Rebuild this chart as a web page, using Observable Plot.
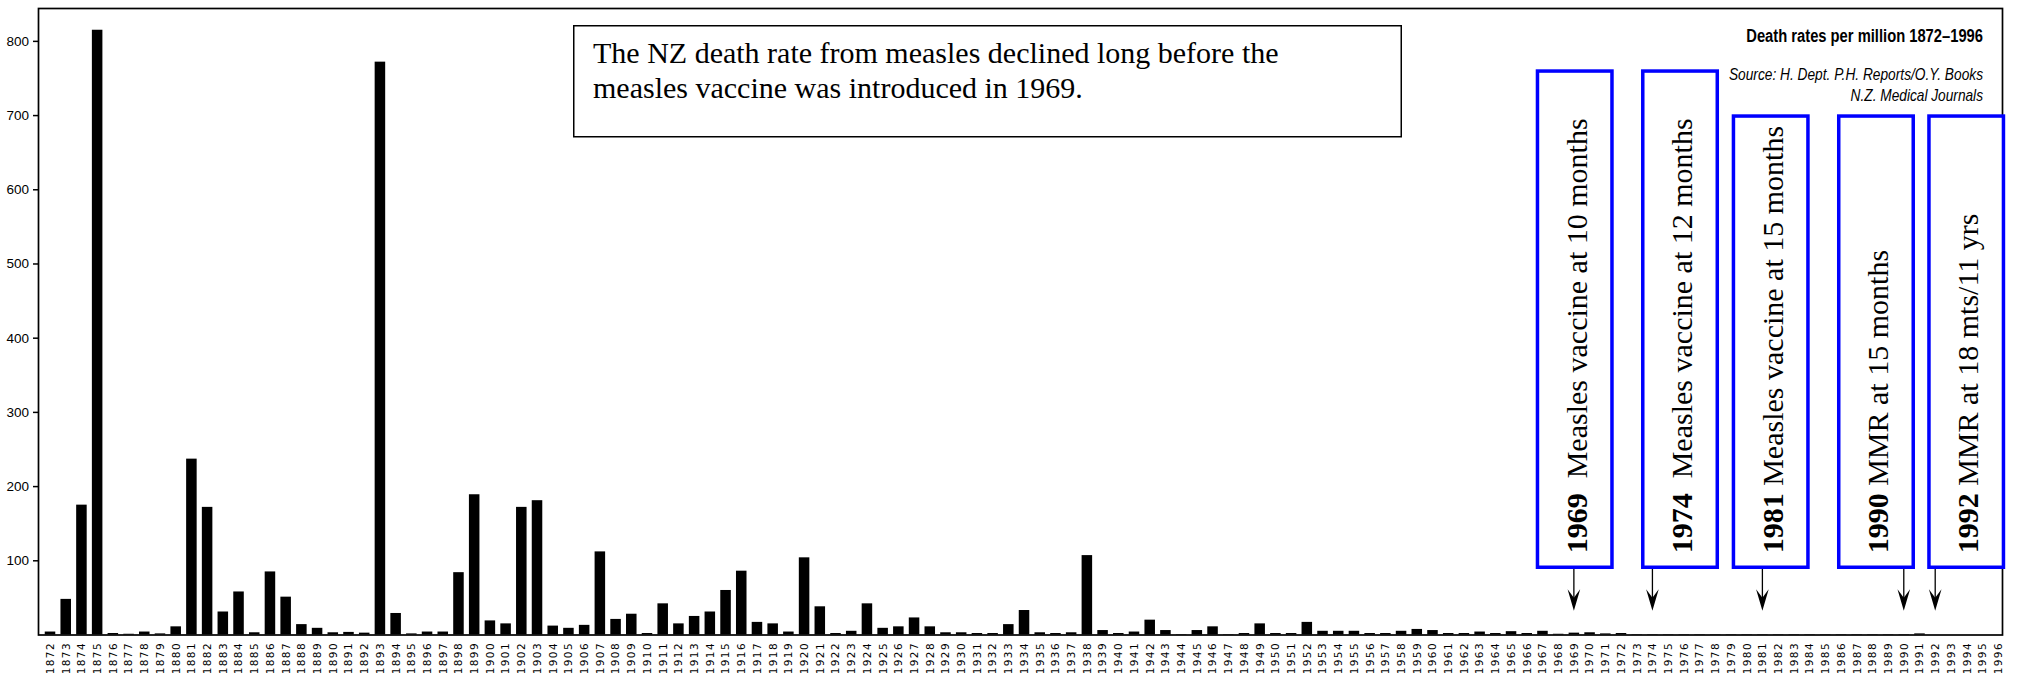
<!DOCTYPE html>
<html>
<head>
<meta charset="utf-8">
<script src="https://cdn.jsdelivr.net/npm/d3@7"></script>
<script src="https://cdn.jsdelivr.net/npm/@observablehq/plot@0.6"></script>
<style>
html, body { margin: 0; padding: 0; background: #fff; }
#chart svg { display: block; }
</style>
</head>
<body>
<div id="chart"></div>
<script>
// ---------------- DATA ----------------
const years = [
  1872, 1873, 1874, 1875, 1876, 1877, 1878, 1879, 1880, 1881,
  1882, 1883, 1884, 1885, 1886, 1887, 1888, 1889, 1890, 1891,
  1892, 1893, 1894, 1895, 1896, 1897, 1898, 1899, 1900, 1901,
  1902, 1903, 1904, 1905, 1906, 1907, 1908, 1909, 1910, 1911,
  1912, 1913, 1914, 1915, 1916, 1917, 1918, 1919, 1920, 1921,
  1922, 1923, 1924, 1925, 1926, 1927, 1928, 1929, 1930, 1931,
  1932, 1933, 1934, 1935, 1936, 1937, 1938, 1939, 1940, 1941,
  1942, 1943, 1944, 1945, 1946, 1947, 1948, 1949, 1950, 1951,
  1952, 1953, 1954, 1955, 1956, 1957, 1958, 1959, 1960, 1961,
  1962, 1963, 1964, 1965, 1966, 1967, 1968, 1969, 1970, 1971,
  1972, 1973, 1974, 1975, 1976, 1977, 1978, 1979, 1980, 1981,
  1982, 1983, 1984, 1985, 1986, 1987, 1988, 1989, 1990, 1991,
  1992, 1993, 1994, 1995, 1996
];

// measles death rate per million
const deathRates = [
  4, 48, 175, 815, 2, 1, 4, 1.5, 11, 237,
  172, 31, 58, 3, 85, 51, 14, 9, 3, 3.5,
  2.5, 772, 29, 1.5, 4, 4, 84, 189, 19, 15,
  172, 181, 12, 9, 13, 112, 21, 28, 2, 42,
  15, 25, 31, 60, 86, 17, 15, 4, 104, 38,
  2, 5, 42, 9, 11, 23, 11, 3, 3, 2,
  2, 14, 33, 3, 2, 3, 107, 6, 2, 4,
  20, 6, 0.5, 6, 11, 0.5, 2, 15, 2, 2,
  17, 5, 5, 5, 2, 2, 5, 7.5, 6, 2,
  2, 4, 2, 4.5, 2, 5, 1, 2.5, 3, 1.5,
  2, 0.5, 0.5, 0.5, 0.5, 0.5, 0.5, 0.5, 0.5, 0.5,
  0.5, 0.5, 0.5, 0.5, 0.5, 0.5, 0.5, 0.5, 0.5, 1.5,
  0, 0, 0, 0, 0
];

const yTicks = [100, 200, 300, 400, 500, 600, 700, 800];

const vaccineYears = [1969, 1974, 1981, 1990, 1992];
const vaccineLabels = [
  "\u00A0\u00A0Measles vaccine at 10 months",
  "\u00A0\u00A0Measles vaccine at 12 months",
  "\u00A0Measles vaccine at 15 months",
  "\u00A0MMR at 15 months",
  "\u00A0MMR at 18 mts/11 yrs"
];

const noteLines = [
  "The NZ death rate from measles declined long before the",
  "measles vaccine was introduced in 1969."
];
const chartTitle = "Death rates per million 1872\u20131996";
const sourceLines = [
  "Source: H. Dept. P.H. Reports/O.Y. Books",
  "N.Z. Medical Journals"
];

// ---------------- LAYOUT (pixels) ----------------
const layout = {
  boxOffset: [0.85, 27.6, 8.3, -27.8, 31],     // box centre relative to its arrow
  boxTop: [69.3, 69.3, 114.3, 114.3, 114.3],
  boxBottom: 569,
  boxWidth: 78,
  boxStroke: 3.5,
  boxTextShift: 12,
  boxTextStart: 553.3,
  arrowTip: 610.7,
  note: {x0: 573, x1: 1402, y0: 25, y1: 137.5, textX: 593, base: 63.3, lead: 34.5},
  rightEdge: 1983,
  title: {y: 41.7, len: 237, size: 18.6},
  source: [{y: 80, len: 254}, {y: 101, len: 132.3}]
};

// ---------------- PLOT ----------------
const table = years.map((year, i) => ({year, rate: deathRates[i]}));

const plot = Plot.plot({
  width: 2017,
  height: 679,
  marginLeft: 38,
  marginRight: 15,
  marginTop: 8,
  marginBottom: 44.5,
  style: {background: "#fff", color: "#000", fontFamily: "'Liberation Sans', Arial, sans-serif", fontSize: "13.5px"},
  x: {
    type: "band",
    domain: years,
    range: [42.15, 2005.9],
    paddingInner: 0.33,
    paddingOuter: 0.165,
    align: 0.5,
    tickRotate: -90,
    tickSize: 0,
    tickPadding: 7,
    tickFormat: d => String(d),
    label: null
  },
  y: {
    domain: [0, 844.3],
    ticks: yTicks,
    tickSize: 5,
    tickPadding: 4.5,
    tickFormat: d => String(d),
    label: null
  },
  marks: [
    Plot.barY(table, {x: "year", y: "rate", fill: "#000"}),
    Plot.frame({stroke: "#000", strokeWidth: 1.7})
  ]
});

document.getElementById("chart").appendChild(plot);

const svg = d3.select(plot);

// axis styling
svg.selectAll('g[aria-label^="x-axis"] text')
  .attr("font-family", "'DejaVu Sans', sans-serif")
  .style("font-size", "10.5px")
  .style("letter-spacing", "1.4px");
svg.selectAll('g[aria-label^="y-axis"] text')
  .style("font-size", "13.5px");
svg.selectAll('g[aria-label^="y-axis"] path, g[aria-label^="y-axis"] line')
  .attr("stroke-width", 1.5);

// ---------------- ANNOTATIONS ----------------
const xs = plot.scale("x");
const cx = yr => xs.apply(yr) + xs.bandwidth / 2;
const ann = svg.append("g")
  .attr("aria-label", "annotations")
  .attr("text-anchor", "start")
  .style("text-anchor", "start");

// note box
const N = layout.note;
ann.append("rect")
  .attr("x", N.x0 + 0.75).attr("y", N.y0 + 0.75)
  .attr("width", N.x1 - N.x0 - 1.5).attr("height", N.y1 - N.y0 - 1.5)
  .attr("fill", "#fff").attr("stroke", "#000").attr("stroke-width", 1.5);
noteLines.forEach((line, i) => {
  ann.append("text")
    .attr("x", N.textX).attr("y", N.base + i * N.lead)
    .attr("text-anchor", "start")
    .attr("font-family", "'Liberation Serif', 'Times New Roman', serif")
    .attr("font-size", 30).attr("fill", "#000")
    .text(line);
});

// title and source: right-aligned, horizontally condensed to the reference width
function condensedText(str, y, len, size, weight, style) {
  const node = ann.append("text")
    .attr("x", 0).attr("y", 0)
    .attr("text-anchor", "end").style("text-anchor", "end")
    .attr("font-family", "'Liberation Sans', Arial, sans-serif")
    .attr("font-weight", weight).attr("font-style", style)
    .attr("font-size", size)
    .attr("fill", "#000")
    .text(str);
  const natural = node.node().getComputedTextLength() || len;
  const k = Math.min(1, len / natural);
  node.attr("transform", `translate(${layout.rightEdge},${y}) scale(${k},1)`);
}
condensedText(chartTitle, layout.title.y, layout.title.len, layout.title.size, "bold", "normal");
sourceLines.forEach((line, i) => {
  const s = layout.source[i];
  condensedText(line, s.y, s.len, 16.3, "normal", "italic");
});

// vaccine boxes and arrows
vaccineYears.forEach((yr, i) => {
  const ax = cx(yr);
  const bc = ax + layout.boxOffset[i];
  const sw = layout.boxStroke;
  const left = bc - layout.boxWidth / 2;
  const top = layout.boxTop[i];
  ann.append("rect")
    .attr("x", left + sw / 2).attr("y", top + sw / 2)
    .attr("width", layout.boxWidth - sw).attr("height", layout.boxBottom - top - sw)
    .attr("fill", "#fff").attr("stroke", "#0000ff").attr("stroke-width", sw);
  const t = ann.append("text")
    .attr("transform", `translate(${bc + layout.boxTextShift},${layout.boxTextStart}) rotate(-90)`)
    .attr("text-anchor", "start")
    .attr("font-family", "'Liberation Serif', 'Times New Roman', serif")
    .attr("font-size", 30).attr("fill", "#000");
  t.append("tspan").attr("font-weight", "bold").text(String(yr));
  t.append("tspan").text(vaccineLabels[i]);
  // arrow
  ann.append("line")
    .attr("x1", ax).attr("x2", ax)
    .attr("y1", layout.boxBottom).attr("y2", layout.arrowTip - 12)
    .attr("stroke", "#000").attr("stroke-width", 1.3);
  const tip = layout.arrowTip;
  ann.append("path")
    .attr("d", `M${ax},${tip} L${ax - 6.3},${tip - 21.5} L${ax},${tip - 13} L${ax + 6.3},${tip - 21.5} Z`)
    .attr("fill", "#000");
});
</script>
</body>
</html>
